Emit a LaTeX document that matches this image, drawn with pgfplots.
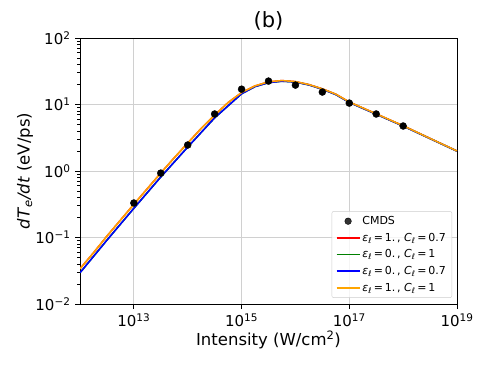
\documentclass[border=0pt]{standalone}
\usepackage{fontspec}
\setmainfont{DejaVu Sans}
\usepackage{pgfplots}
\pgfplotsset{compat=1.18}
\definecolor{gridc}{RGB}{208,208,208}
\definecolor{morange}{RGB}{255,165,0}
\definecolor{mgreen}{RGB}{0,128,0}
\newcommand{\epl}{\textit{ε}\textsubscript{\textit{ℓ}}}
\newcommand{\Cl}{\textit{C}\textsubscript{\textit{ℓ}}}
\begin{document}
\begin{tikzpicture}
\useasboundingbox (-80pt,-64pt) rectangle (410pt,304pt);
\begin{axis}[
  scale only axis, width=377pt, height=266pt,
  xmode=log, ymode=log,
  xmin=1e12, xmax=1e19, ymin=1e-2, ymax=1e2,
  xtick={1e13,1e15,1e17,1e19},
  xticklabels={10\textsuperscript{13},10\textsuperscript{15},10\textsuperscript{17},10\textsuperscript{19}},
  minor xtick={},
  ytick={1e-2,1e-1,1,1e1,1e2},
  yticklabels={10\textsuperscript{−2},10\textsuperscript{−1},10\textsuperscript{0},10\textsuperscript{1},10\textsuperscript{2}},
  minor ytick={0.02,0.03,0.04,0.05,0.06,0.07,0.08,0.09,
    0.2,0.3,0.4,0.5,0.6,0.7,0.8,0.9,2,3,4,5,6,7,8,9,20,30,40,50,60,70,80,90},
  tick label style={font=\fontsize{15}{17}\selectfont},
  xticklabel style={yshift=-1pt},
  yticklabel style={xshift=-1pt},
  tick align=outside, major tick length=5pt, minor tick length=3pt,
  tick style={black, line width=0.8pt},
  xtick pos=bottom, ytick pos=left,
  grid=major, major grid style={gridc, line width=1pt},
  minor grid style={draw=none},
  axis line style={line width=0.9pt},
  xlabel={Intensity (W/cm\textsuperscript{2})},
  ylabel={\textit{dT}\textsubscript{\textit{e}}\textit{/dt} (eV/ps)},
  every axis x label/.style={at={(axis description cs:0.5,0)}, yshift=-36pt, anchor=center,
    font=\fontsize{16.5}{19}\selectfont},
  every axis y label/.style={at={(axis description cs:0,0.5)}, xshift=-55pt, rotate=90, anchor=center,
    font=\fontsize{16.5}{19}\selectfont},
  title={(b)},
  every axis title/.style={font=\fontsize{21}{24}\selectfont, at={(axis description cs:0.5,1)}, yshift=4pt, anchor=south},
  legend style={at={(0.987,0.023)}, anchor=south east, font=\fontsize{11}{13}\selectfont,
    draw=black!20, fill=white, fill opacity=0.8, text opacity=1, rounded corners=2pt,
    row sep=3pt, inner xsep=4pt, inner ysep=3pt},
  legend cell align=left,
  legend image code/.code={\draw[#1] (0pt,0pt) -- (23pt,0pt);},
]
\addplot[only marks, mark=*, mark size=3.5pt, black, mark options={draw=black, fill=black},
  legend image code/.code={\fill[black] (11.5pt,0pt) circle (3.3pt);}] coordinates {
(1e13,0.33) (3.16e13,0.93) (1e14,2.46) (3.16e14,7.2) (1e15,17) (3.16e15,22.5)
(1e16,19.6) (3.16e16,15.4) (1e17,10.5) (3.16e17,7.2) (1e18,4.75)};
\addlegendentry{CMDS}
\addplot[red, line width=1.5pt] coordinates {
(1e12,0.0339) (1.78e12,0.0589) (3.16e12,0.105) (5.62e12,0.182) (1e13,0.316)
(1.78e13,0.543) (3.16e13,0.933) (5.62e13,1.58) (1e14,2.63) (1.78e14,4.37)
(3.16e14,6.92) (5.62e14,10.7) (1e15,15.1) (1.78e15,19.05) (3.16e15,21.9)
(5.62e15,22.9) (1e16,22.1) (1.78e16,19.95) (3.16e16,17.2) (5.62e16,14.3)
(1e17,10.9) (3.16e17,7.24) (1e18,4.79) (3.16e18,3.09) (1e19,2.0)};
\addlegendentry{\epl\,=\,1.\,,\ \Cl\,=\,0.7}
\addplot[mgreen, line width=1.5pt] coordinates {
(1e12,0.0295) (3.16e12,0.0912) (1e13,0.275) (3.16e13,0.813) (1e14,2.29)
(3.16e14,6.3) (1e15,14.5) (1.78e15,18.6) (3.16e15,21.3) (5.62e15,22.4)
(1e16,21.8) (1.78e16,19.7) (3.16e16,17.0) (5.62e16,14.1)
(1e17,10.75) (3.16e17,7.15) (1e18,4.74) (3.16e18,3.07) (1e19,1.99)};
\addlegendentry{\epl\,=\,0.\,,\ \Cl\,=\,1}
\addplot[blue, line width=1.5pt] coordinates {
(1e12,0.0295) (3.16e12,0.0912) (1e13,0.275) (3.16e13,0.813) (1e14,2.29)
(3.16e14,6.3) (1e15,14.5) (1.78e15,18.6) (3.16e15,21.3) (5.62e15,22.4)
(1e16,21.8) (1.78e16,19.7) (3.16e16,17.0) (5.62e16,14.1)
(1e17,10.75) (3.16e17,7.15) (1e18,4.74) (3.16e18,3.07) (1e19,1.99)};
\addlegendentry{\epl\,=\,0.\,,\ \Cl\,=\,0.7}
\addplot[morange, line width=1.5pt] coordinates {
(1e12,0.0339) (1.78e12,0.0589) (3.16e12,0.105) (5.62e12,0.182) (1e13,0.316)
(1.78e13,0.543) (3.16e13,0.933) (5.62e13,1.58) (1e14,2.63) (1.78e14,4.37)
(3.16e14,6.92) (5.62e14,10.7) (1e15,15.1) (1.78e15,19.05) (3.16e15,21.9)
(5.62e15,22.9) (1e16,22.1) (1.78e16,19.95) (3.16e16,17.2) (5.62e16,14.3)
(1e17,10.9) (3.16e17,7.24) (1e18,4.79) (3.16e18,3.09) (1e19,2.0)};
\addlegendentry{\epl\,=\,1.\,,\ \Cl\,=\,1}
\end{axis}
\end{tikzpicture}
\end{document}
